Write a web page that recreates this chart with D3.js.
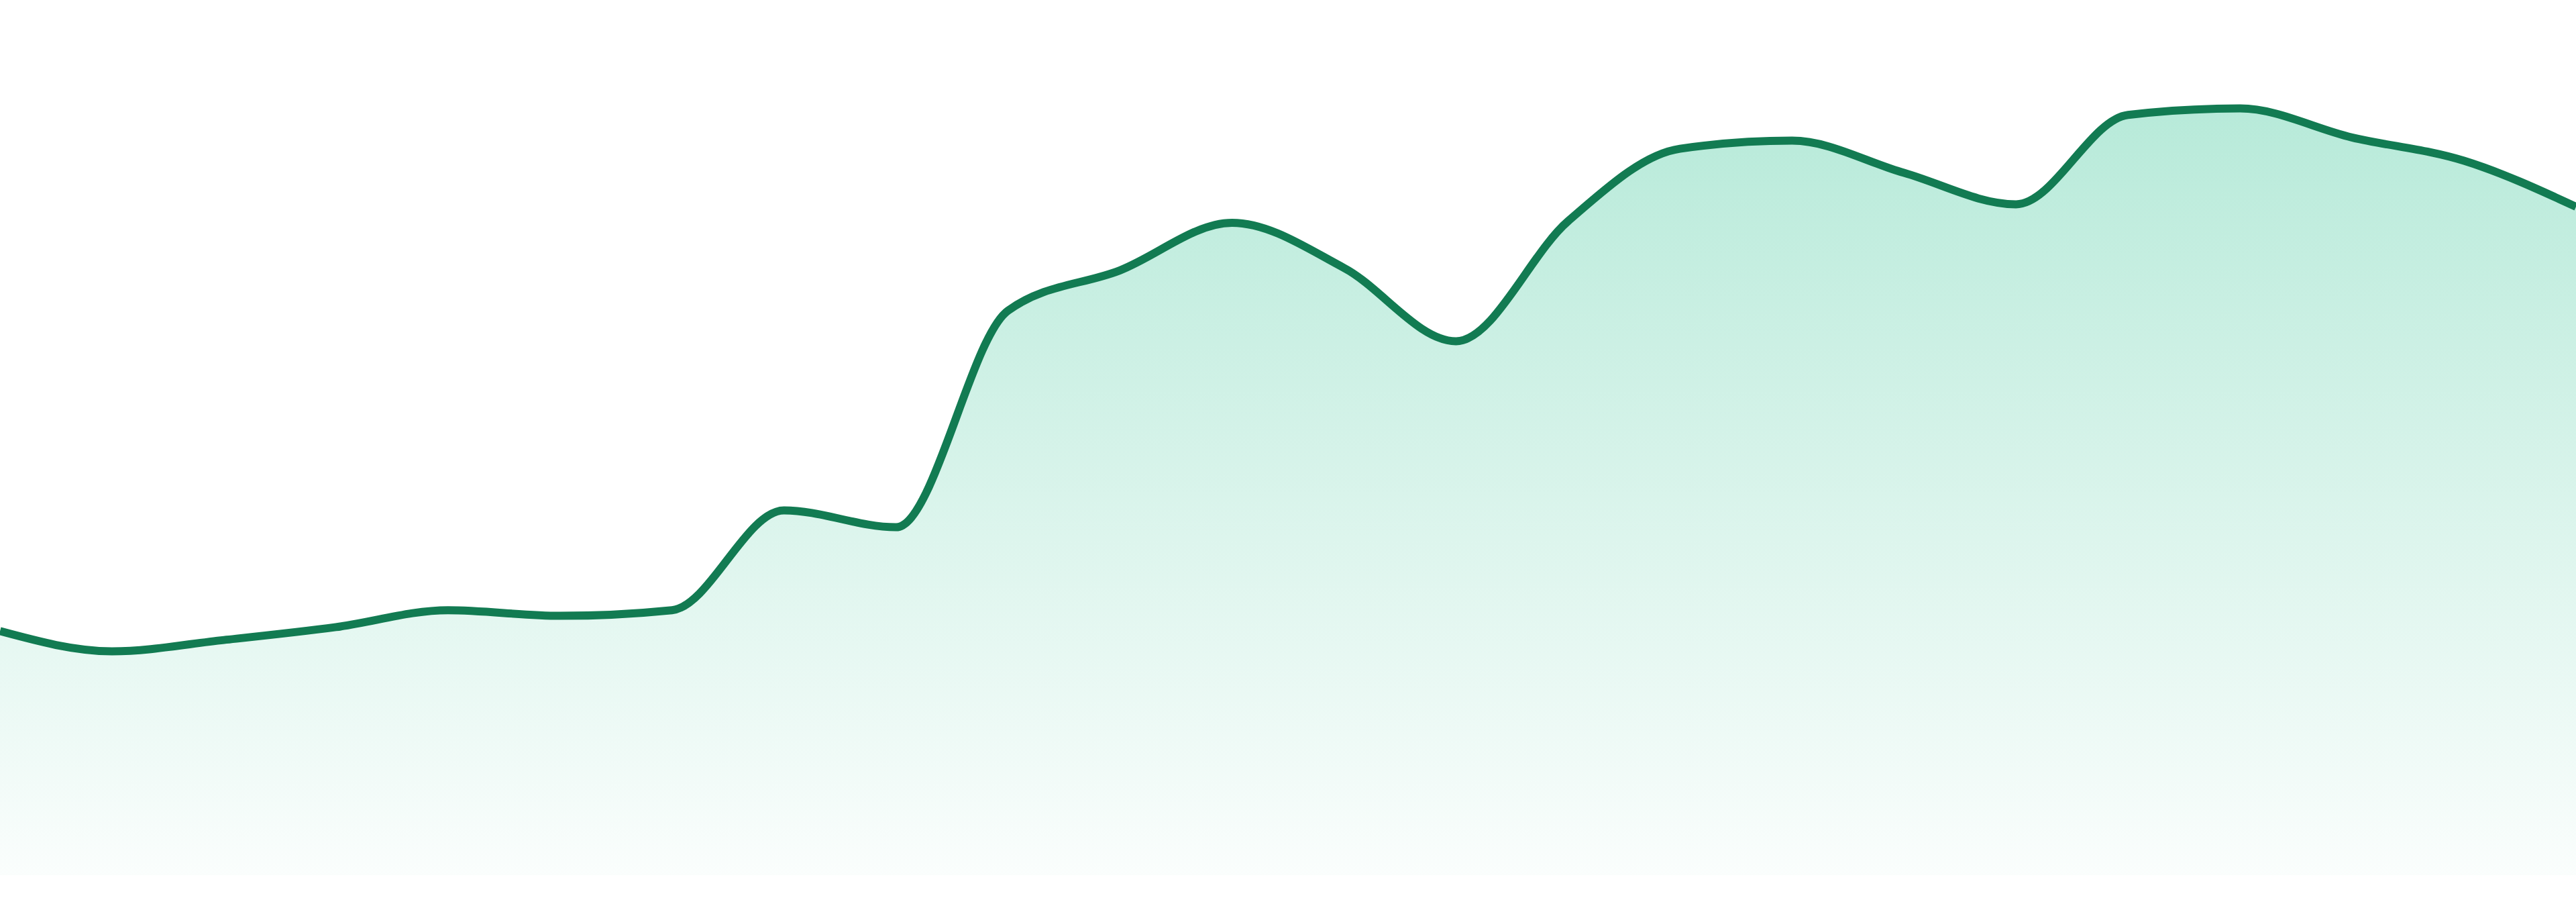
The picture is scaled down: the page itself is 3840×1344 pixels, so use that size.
<!DOCTYPE html>
<html>
<head>
<meta charset="utf-8">
<script src="https://cdn.jsdelivr.net/npm/d3@7"></script>
<style>
  html, body { margin: 0; padding: 0; background: #ffffff; overflow: hidden; }
</style>
</head>
<body>
<div id="chart"></div>
<script>
// data (one point per hour, no visible axes)
const hours = ["00", "01", "02", "03", "04", "05", "06", "07", "08", "09", "10", "11",
               "12", "13", "14", "15", "16", "17", "18", "19", "20", "21", "22", "23"];
const values = [30.3, 27.8, 29.2, 30.8, 32.9, 32.2, 32.9, 45.3, 43.2, 70.1, 75.1, 81.0,
                75.4, 66.3, 81.2, 90.2, 91.2, 87.2, 83.3, 94.4, 95.2, 91.6, 88.7, 83.0];
const yDomain = [0, 100];

const width = 3840, height = 1344;
const plotBottom = 1304, plotTop = 104;

const svg = d3.select("#chart")
    .append("svg")
    .attr("width", width)
    .attr("height", height);

const x = d3.scalePoint()
    .domain(hours)
    .range([0, width]);

const y = d3.scaleLinear()
    .domain(yDomain)
    .range([plotBottom, plotTop]);

const points = hours.map((h, i) => ({ h: h, v: values[i] }));

// gradient fill under the line
const grad = svg.append("defs")
    .append("linearGradient")
    .attr("id", "fillGrad")
    .attr("x1", 0).attr("y1", 0)
    .attr("x2", 0).attr("y2", 1);
grad.append("stop").attr("offset", "0%")
    .attr("stop-color", "#10b981").attr("stop-opacity", 0.3);
grad.append("stop").attr("offset", "100%")
    .attr("stop-color", "#10b981").attr("stop-opacity", 0.02);

const area = d3.area()
    .x(d => x(d.h))
    .y0(y(0))
    .y1(d => y(d.v))
    .curve(d3.curveMonotoneX);

const line = d3.line()
    .x(d => x(d.h))
    .y(d => y(d.v))
    .curve(d3.curveMonotoneX);

svg.append("path")
    .datum(points)
    .attr("fill", "url(#fillGrad)")
    .attr("d", area);

svg.append("path")
    .datum(points)
    .attr("fill", "none")
    .attr("stroke", "#127b52")
    .attr("stroke-width", 12)
    .attr("stroke-linejoin", "round")
    .attr("d", line);
</script>
</body>
</html>
